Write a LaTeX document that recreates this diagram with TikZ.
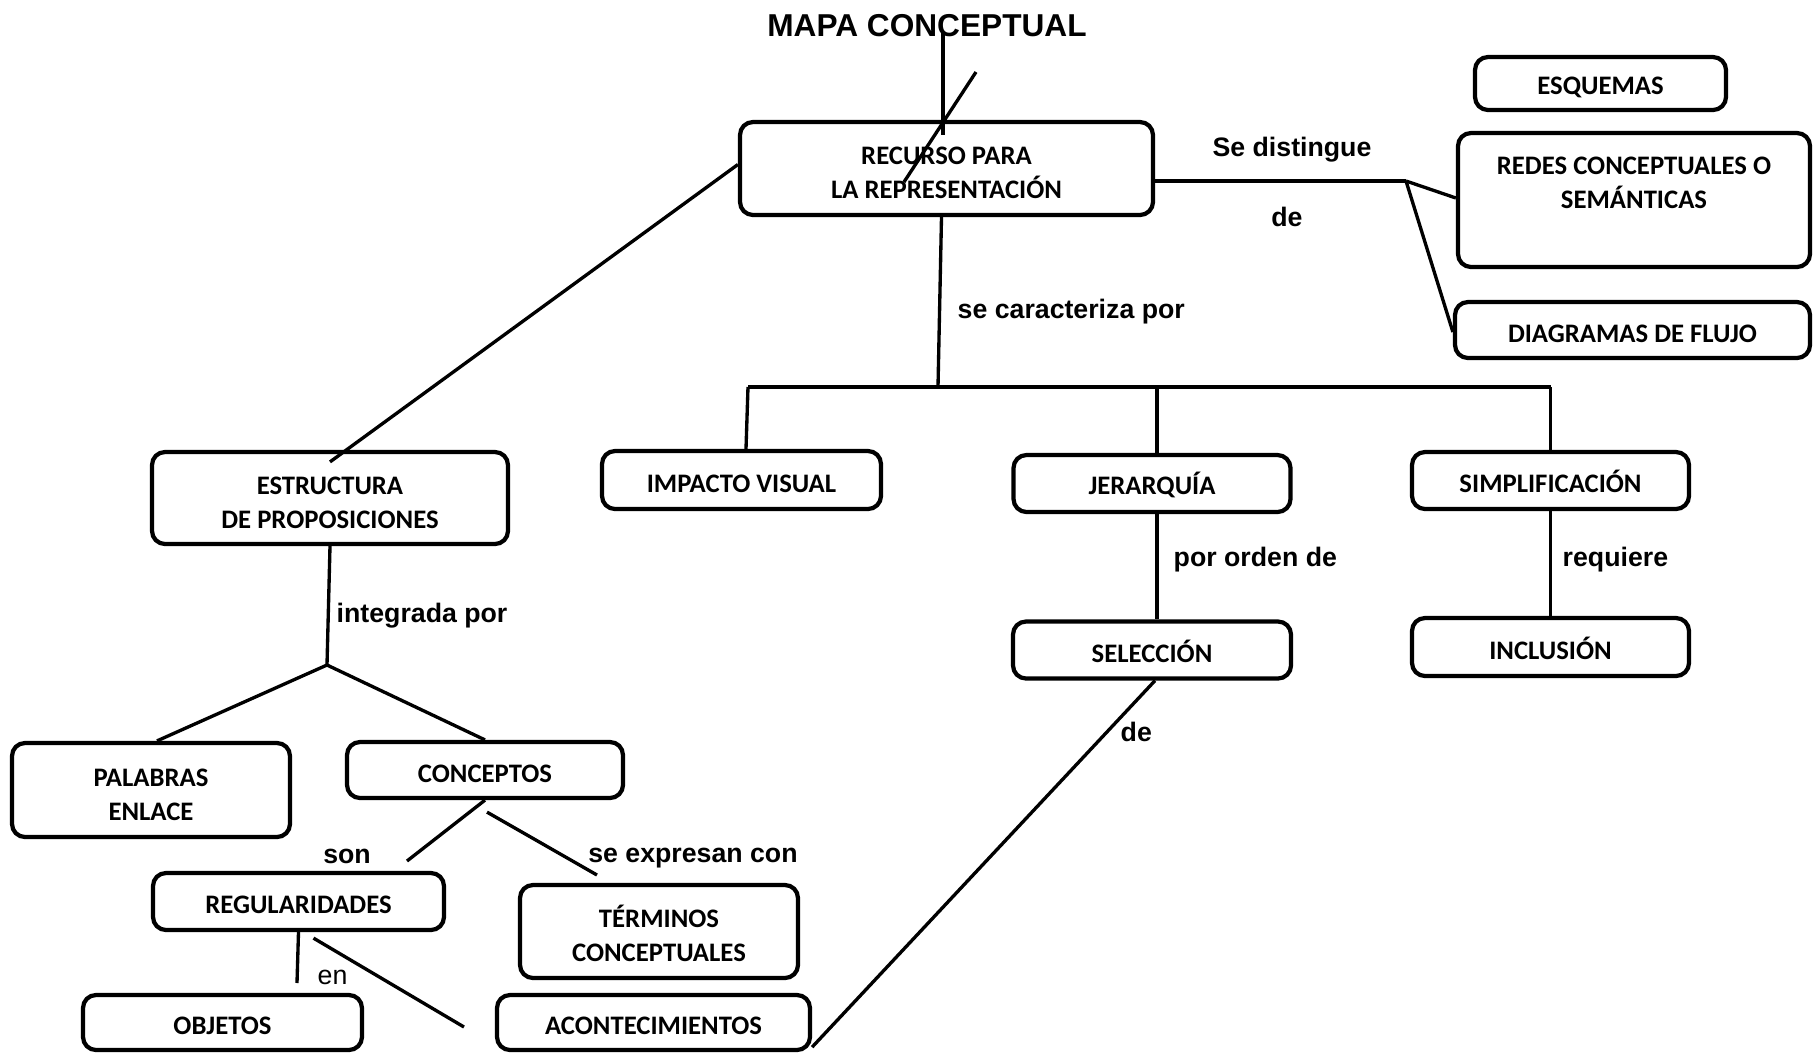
\documentclass[tikz,border=0pt]{standalone}
\usepackage{fontspec}
\setmainfont{Liberation Sans}
\newfontfamily\calibri{Carlito}
\usetikzlibrary{positioning,calc}
\newcommand\firstup{\rule{0pt}{7.5pt}}

\begin{document}
\begin{tikzpicture}[x=0.1mm, y=-0.1mm, font=\bfseries]
		\tikzset{concept/.style={draw,rounded corners=1.3mm,line width=1.2pt,align=center,inner sep=0pt,font=\calibri\bfseries\fontsize{7.6}{9.7}\selectfont,execute at begin node={\rule{0pt}{7pt}}}}
		\tikzset{link/.style={line width=0.95pt}}
		\tikzset{lw/.style={inner sep=0pt,font=\bfseries\fontsize{7.6}{9}\selectfont}}
		\tikzset{lwr/.style={lw,anchor=west}}

		\useasboundingbox (0,0) rectangle (1813,1052);

		% Title
		\node[font=\bfseries\fontsize{9}{11}\selectfont] (title) at (927,26) {MAPA CONCEPTUAL};

		% Recurso
		\node[concept,minimum width=41.3mm,minimum height=9.3mm] (recurso) at (946.5,168.5) {\firstup RECURSO PARA\\LA REPRESENTACIÓN};

		% Right column
		\node[concept,minimum width=25.1mm,minimum height=5.3mm] (esquemas) at (1600.5,83.5) {ESQUEMAS};
		\node[concept,minimum width=35.2mm,minimum height=13.4mm] (redes) at (1634,200) {REDES CONCEPTUALES O\\SEMÁNTICAS\\~};
		\node[concept,minimum width=35.5mm,minimum height=5.6mm] (diagramas) at (1632.5,330) {DIAGRAMAS DE FLUJO};

		% Characteristics
		\node[concept,minimum width=27.9mm,minimum height=5.8mm] (impacto) at (741.5,480) {IMPACTO VISUAL};
		\node[concept,minimum width=27.7mm,minimum height=5.7mm] (jerarquia) at (1152,483.5) {JERARQUÍA};
		\node[concept,minimum width=27.7mm,minimum height=5.7mm] (simplif) at (1550.5,480.5) {SIMPLIFICACIÓN};
		\node[concept,minimum width=27.8mm,minimum height=5.7mm] (seleccion) at (1152,650) {SELECCIÓN};
		\node[concept,minimum width=27.7mm,minimum height=5.8mm] (inclusion) at (1550.5,647) {INCLUSIÓN};

		% Structure
		\node[concept,minimum width=35.6mm,minimum height=9.2mm] (estructura) at (330,498) {\firstup ESTRUCTURA\\DE PROPOSICIONES};
		\node[concept,minimum width=27.8mm,minimum height=9.4mm] (palabras) at (151,790) {\firstup PALABRAS\\ENLACE};
		\node[concept,minimum width=27.6mm,minimum height=5.6mm] (conceptos) at (485,770) {CONCEPTOS};
		\node[concept,minimum width=29.1mm,minimum height=5.7mm] (regularidades) at (298.5,901.5) {REGULARIDADES};
		\node[concept,minimum width=27.8mm,minimum height=9.3mm] (terminos) at (659,931.5) {\firstup TÉRMINOS\\CONCEPTUALES};
		\node[concept,minimum width=27.9mm,minimum height=5.5mm] (objetos) at (222.5,1022.5) {OBJETOS};
		\node[concept,minimum width=31.3mm,minimum height=5.5mm] (aconte) at (653.5,1022.5) {ACONTECIMIENTOS};

		% Linking words
		\node[lw] (distingue) at (1292,150) {Se distingue};
		\node[lw] (de1) at (1287,217) {de};
		\node[lwr] (caracteriza) at (957,312) {se caracteriza por};
		\node[lwr] (orden) at (1173,560) {por orden de};
		\node[lwr] (requiere) at (1562,560) {requiere};
		\node[lwr] (de2) at (1120,732) {de};
		\node[lwr] (integrada) at (336,616) {integrada por};
		\node[lw] (son) at (347,856) {son};
		\node[lw] (expresan) at (693,858) {se expresan con};
		\node[lwr,font=\mdseries\fontsize{7.6}{9}\selectfont] (en) at (317,977) {en};

		% Free ends
		\coordinate (ttop) at (943,32);
		\coordinate (tbot) at (943,135);
		\coordinate (sa) at (976,72);
		\coordinate (sb) at (904,182);
		\coordinate (fork) at (1406,181);
		\coordinate (hub) at (938,387);
		\coordinate (barL) at (748,387);
		\coordinate (barR) at (1551,387);
		\coordinate (integ) at (327,665);
		\coordinate (sonend) at (407,861);
		\coordinate (exprend) at (597,875);
		\coordinate (enend) at (297,983);
		\coordinate (acend) at (464,1027);

		% Connectors
		\draw[link] (ttop) -- (tbot);
		\draw[link] (sa) -- (sb);
		\draw[link] (recurso.east |- fork) -- (fork);
		\draw[link] (fork) -- ([yshift=0.2mm]redes.west);
		\draw[link] (fork) -- ([yshift=-0.2mm]diagramas.west);
		\draw[link] ([xshift=-0.5mm]recurso.south) -- (hub);
		\draw[link] (barL) -- (barR);
		\draw[link] (barL) -- ([xshift=0.45mm]impacto.north);
		\draw[link] ([xshift=0.5mm]jerarquia.north) -- ([xshift=0.5mm]jerarquia.north |- barL);
		\draw[link] (simplif.north) -- (simplif.north |- barR);
		\draw[link] ([xshift=0.5mm]jerarquia.south) -- ([xshift=0.5mm]seleccion.north);
		\draw[link] (simplif.south) -- (inclusion.north);
		\draw[link] ([xshift=0.3mm]seleccion.south) -- ([yshift=0.5mm]aconte.south east);
		\draw[link] ([yshift=0.4mm]recurso.west) -- ([yshift=-1.2mm]estructura.north);
		\draw[link] (estructura.south) -- (integ);
		\draw[link] (integ) -- ([xshift=0.6mm]palabras.north);
		\draw[link] (integ) -- (conceptos.north);
		\draw[link] (conceptos.south) -- (sonend);
		\draw[link] ([xshift=0.2mm,yshift=-1.2mm]conceptos.south) -- (exprend);
		\draw[link] (regularidades.south) -- (enend);
		\draw[link] ([xshift=1.5mm,yshift=-0.6mm]regularidades.south) -- (acend);
	\end{tikzpicture}
\end{document}
